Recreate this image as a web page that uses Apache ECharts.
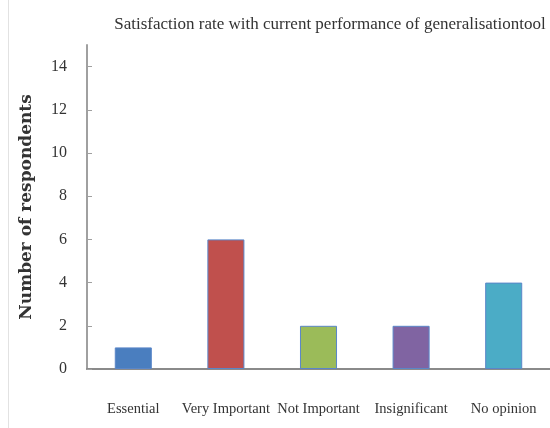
<!DOCTYPE html>
<html>
<head>
<meta charset="utf-8">
<script src="https://cdn.jsdelivr.net/npm/echarts@6/dist/echarts.min.js"></script>
<style>
  html, body { margin: 0; padding: 0; background: #fff; }
  #chart { width: 550px; height: 428px; }
</style>
</head>
<body>
<div id="chart"></div>
<script>
// Survey responses per category
var categories = ['Essential', 'Very Important', 'Not Important', 'Insignificant', 'No opinion'];
var respondents = [1, 6, 2, 2, 4];
var barColors = ['#4A7EBF', '#C0504D', '#9BBB59', '#8064A2', '#4BACC6'];
var yTicks = [0, 2, 4, 6, 8, 10, 12, 14];

var serif = '"Liberation Serif", "DejaVu Serif", serif';

var chart = echarts.init(document.getElementById('chart'));
chart.setOption({
  backgroundColor: '#ffffff',
  animation: false,
  title: {
    text: 'Satisfaction rate with current performance of generalisationtool',
    left: 325,
    top: 11,
    textAlign: 'center',
    textStyle: { fontFamily: serif, fontSize: 17, fontWeight: 'normal', color: '#333' }
  },
  graphic: [{
    type: 'line',
    shape: { x1: 8.5, y1: 0, x2: 8.5, y2: 428 },
    style: { stroke: '#e2e2e2', lineWidth: 1 }
  }],
  grid: { left: 87, right: -5, top: 45, bottom: 59, containLabel: false },
  xAxis: {
    type: 'category',
    data: categories,
    axisLine: { lineStyle: { color: '#8a8a8a', width: 2 } },
    axisTick: { show: false },
    axisLabel: { margin: 33, fontFamily: serif, fontSize: 14.5, color: '#333', interval: 0 }
  },
  yAxis: {
    type: 'value',
    min: 0,
    max: 15,
    name: 'Number of respondents',
    nameLocation: 'middle',
    nameGap: 52,
    nameTextStyle: { fontFamily: '"DejaVu Serif", serif', fontSize: 17, fontWeight: 'bold', color: '#333' },
    splitLine: { show: false },
    axisLine: { show: true, lineStyle: { color: '#a0a0a0', width: 2 } },
    axisTick: { show: true, inside: true, length: 5, customValues: yTicks, lineStyle: { color: '#a0a0a0' } },
    axisLabel: {
      customValues: yTicks,
      margin: 20,
      padding: [8, 0, 0, 0],
      fontFamily: serif, fontSize: 16, color: '#333'
    }
  },
  series: [{
    type: 'bar',
    barWidth: '40%',
    data: respondents.map(function (v, i) {
      return { value: v, itemStyle: { color: barColors[i] } };
    }),
    itemStyle: { borderColor: '#5a86c8', borderWidth: 1 }
  }]
});
</script>
</body>
</html>
